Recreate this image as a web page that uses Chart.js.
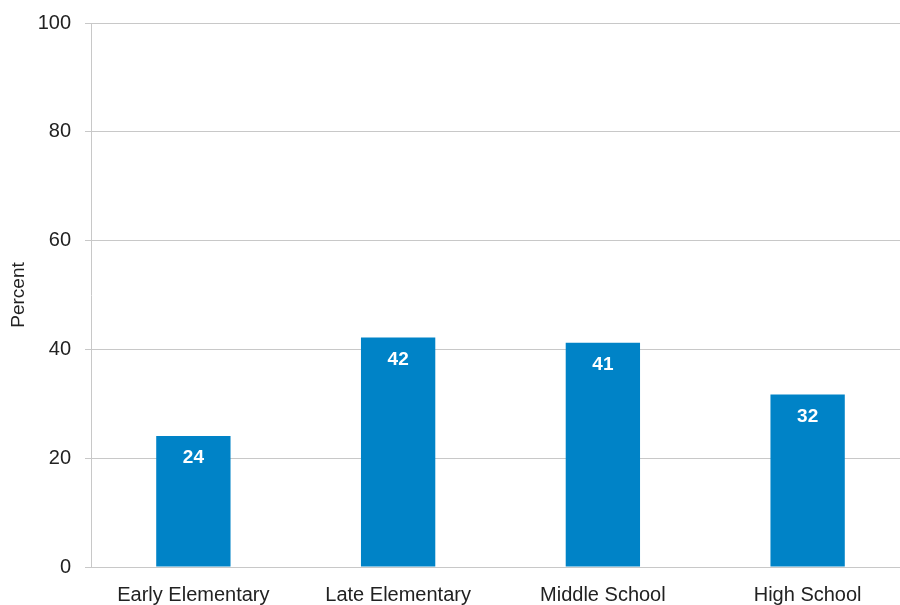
<!DOCTYPE html>
<html>
<head>
<meta charset="utf-8">
<script src="https://cdn.jsdelivr.net/npm/chart.js@4"></script>
<style>
  html, body { margin: 0; padding: 0; background: #fff; overflow: hidden; }
  #wrap { width: 900px; height: 605px; overflow: hidden; }
</style>
</head>
<body>
<div id="wrap"><canvas id="gradeChart" width="910" height="605"></canvas></div>
<script>
const categories = ["Early Elementary", "Late Elementary", "Middle School", "High School"];
const percents = [24.1, 42.2, 41.2, 31.7];
const yTicks = [0, 20, 40, 60, 80, 100];

const FONT = "'Liberation Sans', Arial, sans-serif";
const GRID = "#c8c8c8";

// white numbers just under the top of each bar
const barValues = {
    id: "barValues",
    afterDatasetsDraw(chart) {
        const ctx = chart.ctx;
        const meta = chart.getDatasetMeta(0);
        ctx.save();
        ctx.fillStyle = "#ffffff";
        ctx.font = "bold 19px " + FONT;
        ctx.textAlign = "center";
        ctx.textBaseline = "middle";
        meta.data.forEach((bar, i) => {
            ctx.fillText(Math.round(percents[i]), bar.x, bar.y + 22);
        });
        ctx.restore();
    }
};

const ctx = document.getElementById("gradeChart").getContext("2d");
new Chart(ctx, {
    type: "bar",
    data: {
        labels: categories,
        datasets: [{
            data: percents,
            backgroundColor: "#0083c7",
            borderWidth: 0,
            categoryPercentage: 1,
            barPercentage: 0.363,
        }],
    },
    options: {
        responsive: false,
        animation: false,
        layout: { padding: { top: 23, left: 0, right: 0, bottom: 0 } },
        plugins: {
            legend: { display: false },
            tooltip: { enabled: false },
        },
        scales: {
            x: {
                grid: { display: false, drawTicks: false },
                border: { display: false },
                ticks: {
                    color: "#222",
                    font: { family: FONT, size: 20 },
                    padding: 16,
                    maxRotation: 0,
                },
                afterFit: s => { s.height = 38; },
            },
            y: {
                min: 0,
                max: 100,
                afterBuildTicks: s => { s.ticks = yTicks.map(v => ({ value: v })); },
                grid: { color: GRID, lineWidth: 1, tickLength: 6 },
                border: { color: GRID, width: 1 },
                ticks: {
                    color: "#222",
                    font: { family: FONT, size: 20 },
                    padding: 14,
                },
                title: {
                    display: true,
                    text: "Percent",
                    color: "#222",
                    font: { family: FONT, size: 19 },
                    padding: { top: 7, bottom: 0 },
                },
                afterFit: s => {
                    s.width = 91;
                    s.paddingTop = 0;
                    s.paddingBottom = 0;
                },
            },
        },
    },
    plugins: [barValues],
});
</script>
</body>
</html>
